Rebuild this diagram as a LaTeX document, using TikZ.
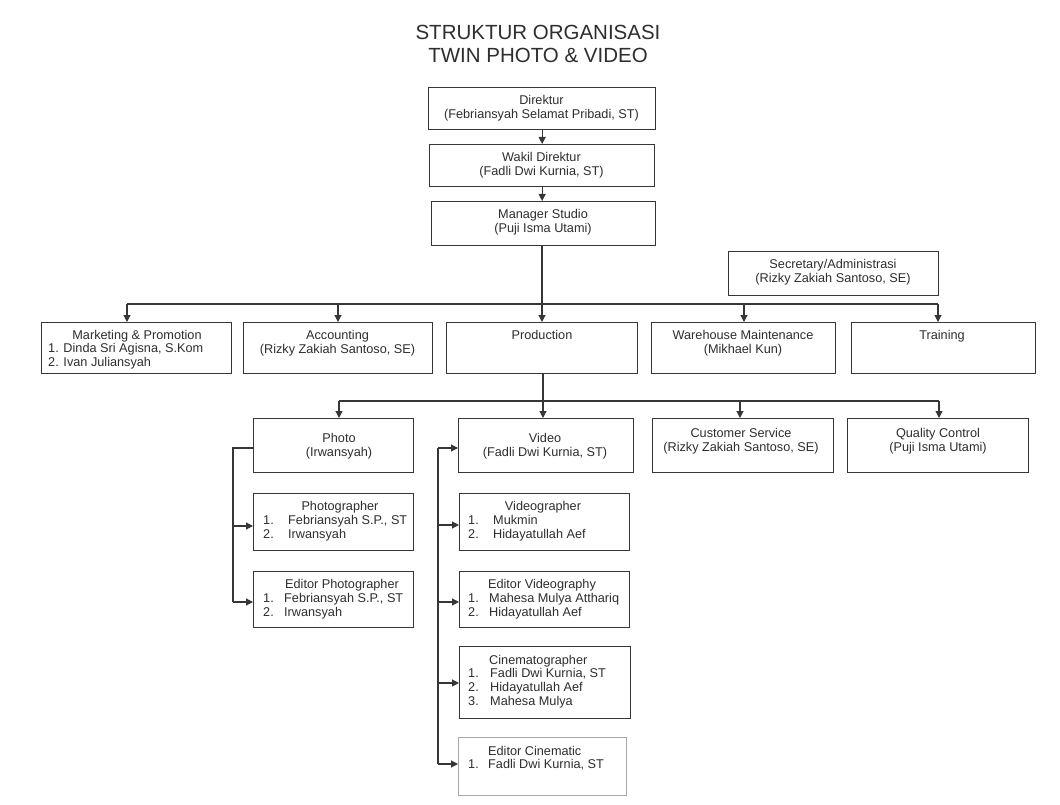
\documentclass[tikz,border=0pt]{standalone}
\usepackage{fontspec}
\setmainfont{Liberation Sans}
\usetikzlibrary{arrows.meta}
\definecolor{ln}{HTML}{363636}
\definecolor{tx}{HTML}{2E2E2E}
\definecolor{lt}{HTML}{A8A8A8}
\newcommand{\li}[3]{\makebox[#1][l]{#2}#3}
\begin{document}
\begin{tikzpicture}[x=1pt,y=-1pt,
  box/.style={draw=ln, line width=1.3pt, anchor=north west, inner sep=0pt},
  lbox/.style={box, draw=lt, line width=0.9pt},
  txt/.style={text=tx, font=\fontsize{12.7}{13.6}\selectfont, inner sep=0pt, align=center, anchor=north},
  lst/.style={text=tx, font=\fontsize{12.7}{13.6}\selectfont, inner sep=0pt, align=left, anchor=north west},
  ttl/.style={text=tx, font=\fontsize{20.5}{23}\selectfont, inner sep=0pt, align=center, anchor=north},
  con/.style={draw=ln, line width=1.1pt},
  arr/.style={con, -{Triangle[length=7pt,width=7pt]}},
]
\fill[white] (0,0) rectangle (1060,805);
\useasboundingbox (0,0) rectangle (1060,805);

% title
\node[ttl] (title) at (538,25) {STRUKTUR ORGANISASI\\TWIN PHOTO \& VIDEO};

% boxes
\node[box, minimum width=227pt, minimum height=42pt] (dir) at (428,87) {};
\node[box, minimum width=225pt, minimum height=42pt] (wak) at (429,144) {};
\node[box, minimum width=224pt, minimum height=44pt] (man) at (431,201) {};
\node[box, minimum width=210pt, minimum height=44pt] (sec) at (728,251) {};
\node[box, minimum width=190pt, minimum height=51pt] (mkt) at (41,322) {};
\node[box, minimum width=189pt, minimum height=51pt] (acc) at (243,322) {};
\node[box, minimum width=191pt, minimum height=51pt] (prod) at (446,322) {};
\node[box, minimum width=184pt, minimum height=51pt] (wh) at (651,322) {};
\node[box, minimum width=184pt, minimum height=51pt] (trn) at (851,322) {};
\node[box, minimum width=160pt, minimum height=54pt] (photo) at (253,418) {};
\node[box, minimum width=175pt, minimum height=54pt] (vid) at (458,418) {};
\node[box, minimum width=181pt, minimum height=54pt] (cs) at (652,418) {};
\node[box, minimum width=181pt, minimum height=54pt] (qc) at (847,418) {};
\node[box, minimum width=160pt, minimum height=57pt] (pg) at (253,493) {};
\node[box, minimum width=160pt, minimum height=56pt] (epg) at (253,571) {};
\node[box, minimum width=170pt, minimum height=57pt] (vg) at (459,493) {};
\node[box, minimum width=170pt, minimum height=56pt] (ev) at (459,571) {};
\node[box, minimum width=171pt, minimum height=72pt] (cin) at (459,646) {};
\node[lbox, minimum width=168pt, minimum height=58pt] (ec) at (458,737) {};

% texts
\node[txt] (dirT) at (541.5,95) {Direktur\\(Febriansyah Selamat Pribadi, ST)};
\node[txt] (wakT) at (541.5,152) {Wakil Direktur\\(Fadli Dwi Kurnia, ST)};
\node[txt] (manT) at (543,209) {Manager Studio\\(Puji Isma Utami)};
\node[txt] (secT) at (833,259) {Secretary/Administrasi\\(Rizky Zakiah Santoso, SE)};
\node[txt] (mktT) at (137,330) {Marketing \& Promotion};
\node[lst] (mktL) at (48,343) {1. Dinda Sri Agisna, S.Kom\\2. Ivan Juliansyah};
\node[txt] (accT) at (337.5,330) {Accounting\\(Rizky Zakiah Santoso, SE)};
\node[txt] (prodT) at (542,330) {Production};
\node[txt] (whT) at (743,330) {Warehouse Maintenance\\(Mikhael Kun)};
\node[txt] (trnT) at (942,330) {Training};
\node[txt] (photoT) at (339,433) {Photo\\(Irwansyah)};
\node[txt] (vidT) at (545,433) {Video\\(Fadli Dwi Kurnia, ST)};
\node[txt] (csT) at (741,428) {Customer Service\\(Rizky Zakiah Santoso, SE)};
\node[txt] (qcT) at (938,428) {Quality Control\\(Puji Isma Utami)};
\node[txt] (pgT) at (340,501) {Photographer};
\node[lst] (pgL) at (263,515) {\li{25pt}{1.}{Febriansyah S.P., ST}\\\li{25pt}{2.}{Irwansyah}};
\node[txt] (epgT) at (342,579) {Editor Photographer};
\node[lst] (epgL) at (263,593) {\li{21pt}{1.}{Febriansyah S.P., ST}\\\li{21pt}{2.}{Irwansyah}};
\node[txt] (vgT) at (543,501) {Videographer};
\node[lst] (vgL) at (468,515) {\li{25pt}{1.}{Mukmin}\\\li{25pt}{2.}{Hidayatullah Aef}};
\node[txt] (evT) at (542,579) {Editor Videography};
\node[lst] (evL) at (468,593) {\li{21pt}{1.}{Mahesa Mulya Atthariq}\\\li{21pt}{2.}{Hidayatullah Aef}};
\node[lst] (cinT) at (489,655) {Cinematographer};
\node[lst] (cinL) at (468,668.5) {\li{22pt}{1.}{Fadli Dwi Kurnia, ST}\\\li{22pt}{2.}{Hidayatullah Aef}\\\li{22pt}{3.}{Mahesa Mulya}};
\node[lst] (ecT) at (488,746) {Editor Cinematic};
\node[lst] (ecL) at (468,759.5) {\li{20pt}{1.}{Fadli Dwi Kurnia, ST}};

% top chain
\draw[arr] (dir.south) -- (dir.south |- wak.north);
\draw[arr] (wak.south) -- (wak.south |- man.north);

% first bus
\coordinate (b1) at (127,304);
\coordinate (b2) at (338,304);
\coordinate (b3) at (542,304);
\coordinate (b4) at (744,304);
\coordinate (b5) at (938,304);
\draw[con] (b3 |- man.south) -- (b3);
\draw[con] (b1) -- (b5);
\draw[arr] (b1) -- (b1 |- mkt.north);
\draw[arr] (b2) -- (b2 |- acc.north);
\draw[arr] (b3) -- (b3 |- prod.north);
\draw[arr] (b4) -- (b4 |- wh.north);
\draw[arr] (b5) -- (b5 |- trn.north);

% second bus
\coordinate (c1) at (339,401);
\coordinate (c2) at (543,401);
\coordinate (c3) at (740,401);
\coordinate (c4) at (939,401);
\draw[con] (c2 |- prod.south) -- (c2);
\draw[con] (c1) -- (c4);
\draw[arr] (c1) -- (c1 |- photo.north);
\draw[arr] (c2) -- (c2 |- vid.north);
\draw[arr] (c3) -- (c3 |- cs.north);
\draw[arr] (c4) -- (c4 |- qc.north);

% photo branch
\coordinate (p0) at (233,448);
\coordinate (p1) at (233,526);
\coordinate (p2) at (233,602);
\draw[con] (p0 -| photo.west) -- (p0) -- (p2);
\draw[arr] (p1) -- (p1 -| pg.west);
\draw[arr] (p2) -- (p2 -| epg.west);

% video branch
\coordinate (v0) at (438,448);
\coordinate (v1) at (438,525);
\coordinate (v2) at (438,602);
\coordinate (v3) at (438,683);
\coordinate (v4) at (438,764);
\draw[con] (v0) -- (v4);
\draw[arr] (v0) -- (v0 -| vid.west);
\draw[arr] (v1) -- (v1 -| vg.west);
\draw[arr] (v2) -- (v2 -| ev.west);
\draw[arr] (v3) -- (v3 -| cin.west);
\draw[arr] (v4) -- (v4 -| ec.west);
\end{tikzpicture}
\end{document}
